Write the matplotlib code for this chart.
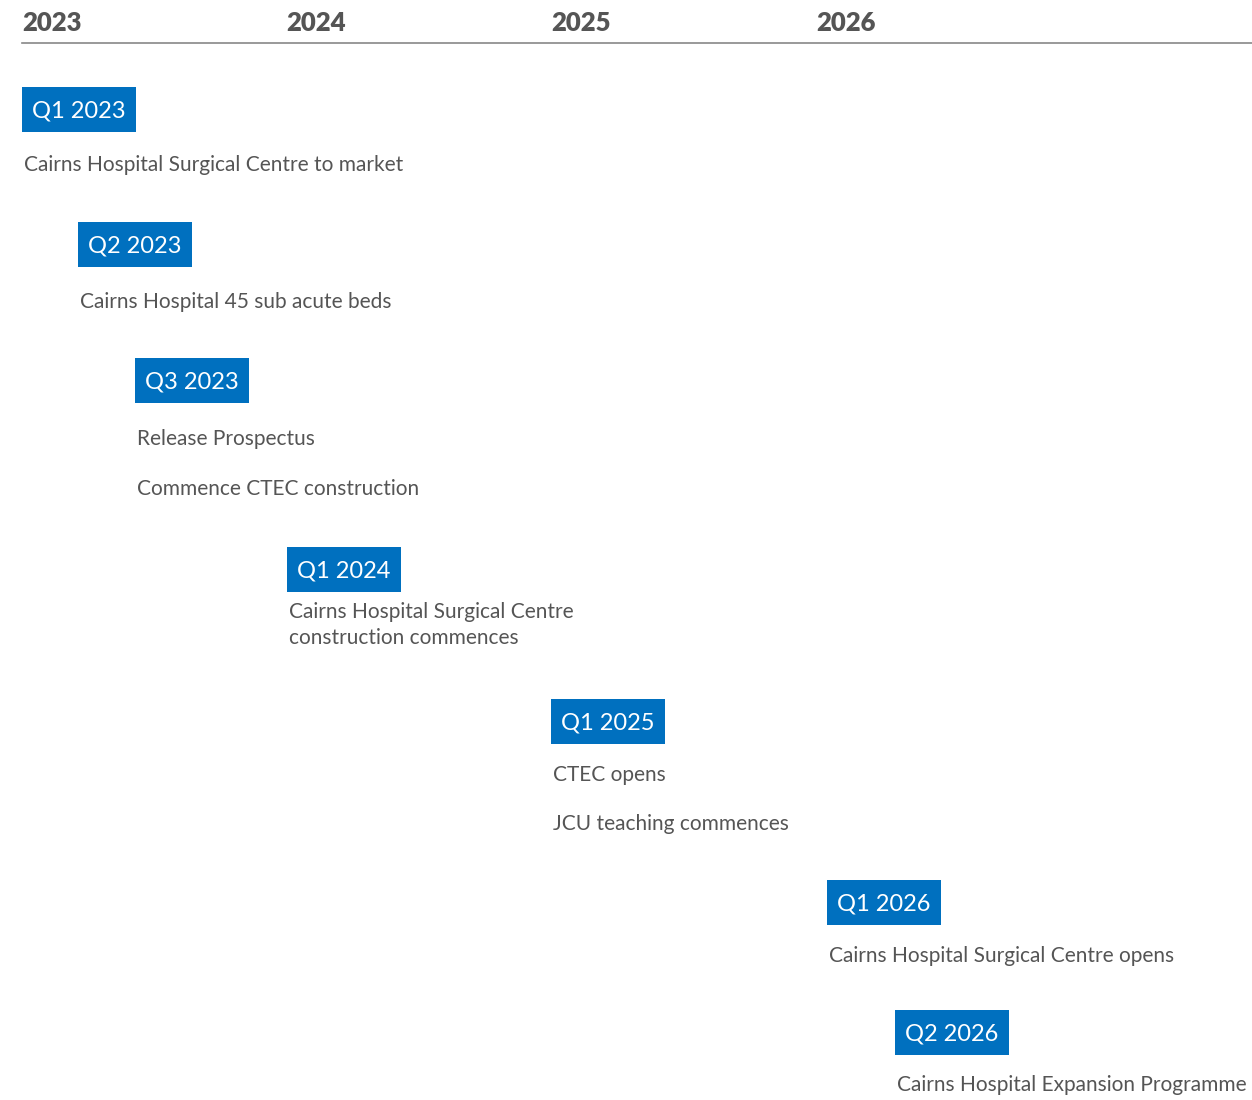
import matplotlib.pyplot as plt
from matplotlib.patches import Rectangle

# timeline data
years = [2023, 2024, 2025, 2026]
quarters = ['Q1 2023', 'Q2 2023', 'Q3 2023', 'Q1 2024', 'Q1 2025', 'Q1 2026', 'Q2 2026']
# position on the time axis (years)
positions = [2023.0, 2023.21, 2023.427, 2024.0, 2025.0, 2026.04, 2026.30]
events = [
    ['Cairns Hospital Surgical Centre to market'],
    ['Cairns Hospital 45 sub acute beds'],
    ['Release Prospectus', 'Commence CTEC construction'],
    ['Cairns Hospital Surgical Centre\nconstruction commences'],
    ['CTEC opens', 'JCU teaching commences'],
    ['Cairns Hospital Surgical Centre opens'],
    ['Cairns Hospital Expansion Programme'],
]

# layout (pixels from top)
box_tops = [87, 222, 358, 547, 699, 880, 1010]
text_rows = [[165], [302], [439, 489], [625], [775, 824], [956], [1085]]

BLUE = '#0070bf'
GREY = '#555555'
FONT = ['Lato', 'DejaVu Sans']

W, H = 1252, 1100
fig = plt.figure(figsize=(W / 100, H / 100), dpi=100)
ax = fig.add_axes([0, 0, 1, 1])
px_per_year = 264.67
x0 = 2023 - 22 / px_per_year
ax.set_xlim(x0, x0 + W / px_per_year)
ax.set_ylim(H, 0)
ax.axis('off')

# year header
for y in years:
    ax.text(y, 23, str(y), fontsize=18.5, fontweight='heavy', color=GREY,
            family=FONT, va='center', ha='left')
ax.plot([2023, x0 + W / px_per_year], [43, 43], color='#888888', lw=1.2)

box_w = 114 / px_per_year
for q, pos, top, ev, rows in zip(quarters, positions, box_tops, events, text_rows):
    ax.add_patch(Rectangle((pos, top), box_w, 45, color=BLUE, lw=0))
    ax.text(pos + 10 / px_per_year, top + 24, q, fontsize=17, color='white',
            family=FONT, va='center', ha='left')
    for label, yy in zip(ev, rows):
        ax.text(pos + 2 / px_per_year, yy, label, fontsize=15, color=GREY,
                family=FONT, va='center', ha='left', linespacing=1.35)

fig.savefig('out.png', dpi=100)
